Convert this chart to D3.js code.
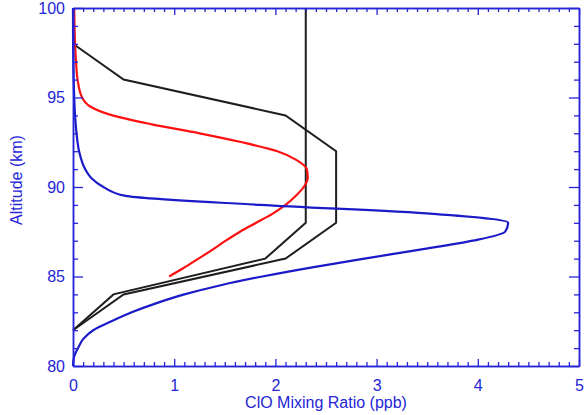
<!DOCTYPE html>
<html>
<head>
<meta charset="utf-8">
<script src="https://cdn.jsdelivr.net/npm/d3@7"></script>
<style>
  body { margin: 0; background: #fff; }
  svg { display: block; font-family: "Liberation Sans", Arial, sans-serif; }
</style>
</head>
<body>
<div id="chart"></div>
<script>
// profile data (altitude in km, ClO in ppb)
var blueAlt = [80, 80.5, 81, 81.5, 82, 82.5, 83, 83.5, 84, 84.5, 85, 85.5, 86, 86.5, 87, 87.5, 88, 88.5, 89, 89.5, 90, 90.5, 91, 92, 93, 94, 95, 96, 97, 98, 100];
var blueVal = [0, 0.01, 0.05, 0.1, 0.2, 0.38, 0.58, 0.82, 1.1, 1.45, 1.87, 2.35, 2.88, 3.43, 3.95, 4.27, 4.3, 3.56, 1.85, 0.52, 0.3, 0.18, 0.12, 0.06, 0.035, 0.02, 0.012, 0.006, 0.003, 0.001, 0];

var redAlt = [85, 85.5, 86, 86.5, 87, 87.5, 88, 88.5, 89, 89.5, 90, 90.5, 91, 91.5, 92, 92.5, 93, 93.5, 94, 94.5, 95, 96, 97, 98, 99, 100];
var redVal = [0.95, 1.1, 1.24, 1.38, 1.51, 1.65, 1.81, 1.97, 2.1, 2.2, 2.28, 2.32, 2.31, 2.21, 2.02, 1.67, 1.25, 0.78, 0.39, 0.17, 0.09, 0.045, 0.03, 0.02, 0.015, 0.012];

var black1Alt = [82, 84, 86, 88, 100];
var black1Val = [0, 0.4, 1.9, 2.3, 2.3];

var black2Alt = [82, 84, 86, 88, 92, 94, 96, 98];
var black2Val = [0, 0.5, 2.1, 2.6, 2.6, 2.1, 0.5, 0];

var xTicks = [0, 1, 2, 3, 4, 5];
var yTicks = [80, 85, 90, 95, 100];

var axisColor = "#2424d8";

var margin = { top: 8, right: 5, bottom: 49, left: 73 };
var width = 584 - margin.left - margin.right,
    height = 415 - margin.top - margin.bottom;

var svg = d3.select("#chart").append("svg")
    .attr("width", 584)
    .attr("height", 415);

var g = svg.append("g")
    .attr("transform", "translate(" + margin.left + "," + margin.top + ")");

var x = d3.scaleLinear().domain([0, 5]).range([0, width]);
var y = d3.scaleLinear().domain([80, 100]).range([height, 0]);

function pairs(alt, val) {
  return alt.map(function(a, i) { return { alt: a, val: val[i] }; });
}

var curveLine = d3.line()
    .x(function(d) { return x(d.val); })
    .y(function(d) { return y(d.alt); })
    .curve(d3.curveMonotoneY);

var straightLine = d3.line()
    .x(function(d) { return x(d.val); })
    .y(function(d) { return y(d.alt); });

// data lines
g.append("path")
    .datum(pairs(black1Alt, black1Val))
    .attr("d", straightLine)
    .attr("fill", "none")
    .attr("stroke", "#1e1e1e")
    .attr("stroke-width", 2);

g.append("path")
    .datum(pairs(black2Alt, black2Val))
    .attr("d", straightLine)
    .attr("fill", "none")
    .attr("stroke", "#1e1e1e")
    .attr("stroke-width", 2);

g.append("path")
    .datum(pairs(redAlt, redVal))
    .attr("d", curveLine)
    .attr("fill", "none")
    .attr("stroke", "#ff1010")
    .attr("stroke-width", 2.2);

g.append("path")
    .datum(pairs(blueAlt, blueVal))
    .attr("d", curveLine)
    .attr("fill", "none")
    .attr("stroke", "#1a1ac8")
    .attr("stroke-width", 2.2);

// axes: ticks drawn inward on all four sides
var xMinor = d3.range(0, 50).map(function(i) { return i / 10; }).filter(function(d) { return xTicks.indexOf(d) < 0; });
var yMinor = d3.range(80, 101).filter(function(d) { return yTicks.indexOf(d) < 0; });

function styleAxis(sel) {
  sel.select(".domain").attr("stroke", axisColor).attr("stroke-width", 1.5);
  sel.selectAll(".tick line").attr("stroke", axisColor).attr("stroke-width", 1.3);
  sel.selectAll(".tick text")
    .attr("fill", axisColor)
    .style("font-size", "16px");
}

var gxMinor = g.append("g")
    .attr("transform", "translate(0," + height + ")")
    .call(d3.axisBottom(x).tickValues(xMinor).tickSize(-4).tickSizeOuter(0).tickFormat(""));
var gx = g.append("g")
    .attr("transform", "translate(0," + height + ")")
    .call(d3.axisBottom(x).tickValues(xTicks).tickSize(-7).tickSizeOuter(0).tickPadding(14).tickFormat(d3.format("d")));
var gxTopMinor = g.append("g")
    .call(d3.axisTop(x).tickValues(xMinor).tickSize(-4).tickSizeOuter(0).tickFormat(""));
var gxTop = g.append("g")
    .call(d3.axisTop(x).tickValues(xTicks).tickSize(-7).tickSizeOuter(0).tickFormat(""));

var gyMinor = g.append("g")
    .call(d3.axisLeft(y).tickValues(yMinor).tickSize(-5).tickSizeOuter(0).tickFormat(""));
var gy = g.append("g")
    .call(d3.axisLeft(y).tickValues(yTicks).tickSize(-10).tickSizeOuter(0).tickPadding(8).tickFormat(d3.format("d")));
var gyRightMinor = g.append("g")
    .attr("transform", "translate(" + width + ",0)")
    .call(d3.axisRight(y).tickValues(yMinor).tickSize(-5).tickSizeOuter(0).tickFormat(""));
var gyRight = g.append("g")
    .attr("transform", "translate(" + width + ",0)")
    .call(d3.axisRight(y).tickValues(yTicks).tickSize(-10).tickSizeOuter(0).tickFormat(""));

[gxMinor, gx, gxTopMinor, gxTop, gyMinor, gy, gyRightMinor, gyRight].forEach(styleAxis);

// axis titles
svg.append("text")
    .attr("x", margin.left + width / 2)
    .attr("y", 408)
    .attr("text-anchor", "middle")
    .attr("fill", axisColor)
    .style("font-size", "16px")
    .text("ClO Mixing Ratio (ppb)");

svg.append("text")
    .attr("transform", "translate(22," + 180 + ") rotate(-90)")
    .attr("text-anchor", "middle")
    .attr("fill", axisColor)
    .style("font-size", "16px")
    .text("Altitude (km)");
</script>
</body>
</html>
